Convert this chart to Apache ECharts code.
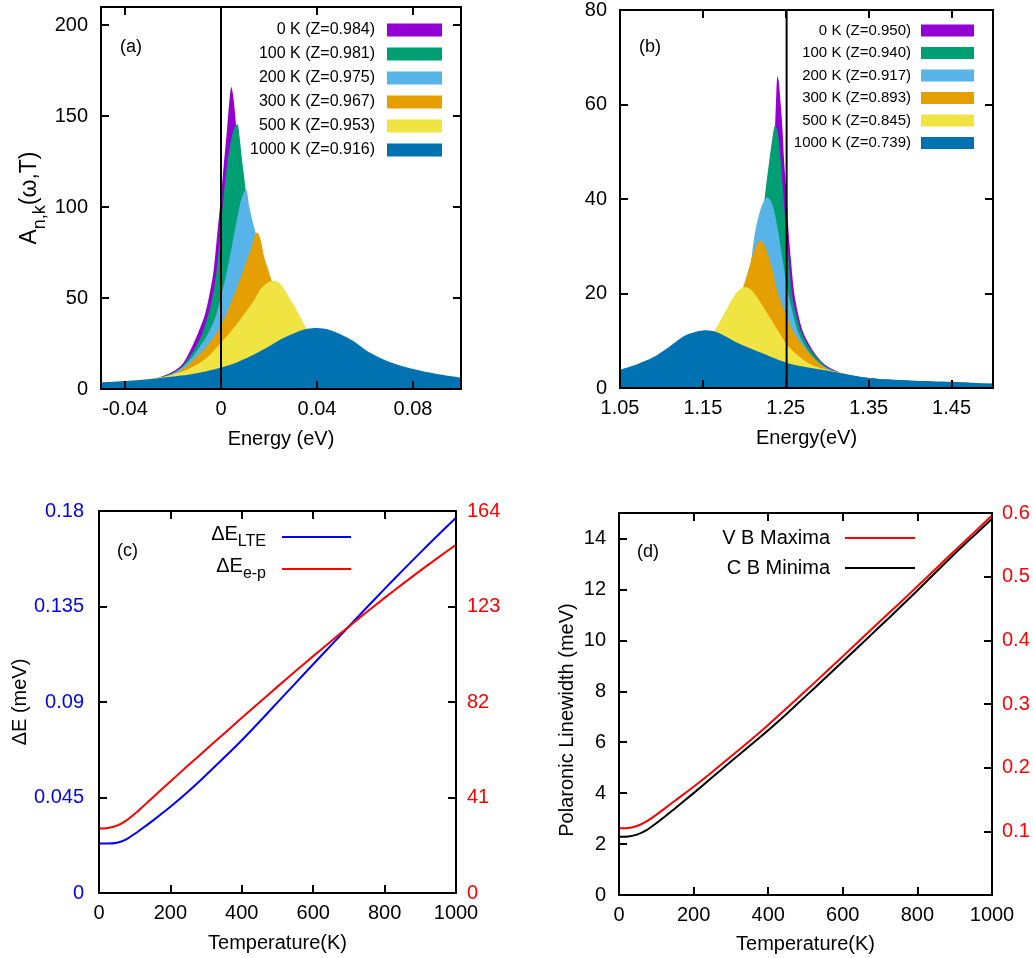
<!DOCTYPE html>
<html>
<head>
<meta charset="utf-8">
<script src="https://cdn.jsdelivr.net/npm/echarts@6/dist/echarts.min.js"></script>
<style>
  html, body { margin: 0; padding: 0; background: #fff; }
  #chart { width: 1033px; height: 958px; }
</style>
</head>
<body>
<div id="chart"></div>
<script>
// ---- panel (a): spectral function near E = 0 ----
const energyA0 = [-0.05, -0.04, -0.03, -0.022, -0.0165, -0.0125, -0.0095, -0.0067, -0.0045, -0.003, -0.0015, 0, 0.0012, 0.0024, 0.0034, 0.0043, 0.0052, 0.0062, 0.0075, 0.009, 0.011, 0.014, 0.018, 0.025, 0.035, 0.05, 0.07, 0.1];
const specA0 = [2.6, 3.3, 4.8, 8.2, 13, 22, 31, 41, 54, 66, 86, 106, 124, 141, 157, 166, 160, 146, 122, 95, 68, 44, 27, 14, 7, 3.5, 1.8, 0.9];
const energyA1 = [-0.05, -0.04, -0.03, -0.022, -0.0165, -0.0115, -0.008, -0.0053, -0.0035, -0.002, -0.0008, 0.0003, 0.0014, 0.0028, 0.0042, 0.0055, 0.0068, 0.0077, 0.0086, 0.0095, 0.0104, 0.0115, 0.013, 0.015, 0.018, 0.022, 0.028, 0.036, 0.05, 0.07, 0.1];
const specA1 = [2.5, 3.2, 4.6, 7.8, 12, 21, 30, 41, 51, 63, 78, 94, 110, 126, 137, 143.5, 145.5, 139, 128, 118, 108, 96, 80, 64, 46, 31, 19, 11, 5, 2.5, 1.2];
const energyA2 = [-0.05, -0.04, -0.03, -0.022, -0.0165, -0.012, -0.0088, -0.0046, -0.0018, 0.0017, 0.0045, 0.0072, 0.0088, 0.0104, 0.0118, 0.0132, 0.0144, 0.016, 0.019, 0.023, 0.03, 0.04, 0.055, 0.075, 0.1];
const specA2 = [2.4, 3.1, 4.4, 7.4, 11.5, 17.5, 23.3, 32.5, 41.7, 60, 78.4, 96.8, 106, 109.6, 100, 92, 86, 75, 58, 42, 26, 15, 7.5, 3.5, 1.8];
const energyA3 = [-0.05, -0.04, -0.03, -0.022, -0.0165, -0.0115, -0.006, -0.0011, 0.0024, 0.0045, 0.0079, 0.0105, 0.0125, 0.0137, 0.015, 0.0163, 0.0179, 0.0198, 0.0218, 0.026, 0.03, 0.035, 0.045, 0.06, 0.08, 0.1];
const specA3 = [2.3, 3.0, 4.2, 7.0, 10.5, 16, 23.3, 32.5, 41.7, 48.6, 60, 70, 77, 83, 86, 83, 73, 65, 57, 44, 35, 26, 15.5, 8, 4.2, 2.5];
const energyA4 = [-0.05, -0.04, -0.03, -0.022, -0.0129, -0.006, 0, 0.004, 0.0079, 0.011, 0.0139, 0.0163, 0.0195, 0.0221, 0.025, 0.029, 0.0325, 0.0357, 0.04, 0.045, 0.055, 0.07, 0.085, 0.1];
const specA4 = [3.0, 4.2, 5.6, 7.3, 11.4, 17, 25.5, 31.5, 38, 43.5, 49, 54.5, 58.5, 59.5, 57.5, 49, 41, 33, 25, 19, 11.5, 6.2, 4, 2.8];
const energyA5 = [-0.05, -0.04, -0.03, -0.022, -0.013, -0.006, 0, 0.006, 0.012, 0.0194, 0.026, 0.032, 0.036, 0.04, 0.045, 0.05, 0.055, 0.061, 0.07, 0.08, 0.09, 0.1];
const specA5 = [3.6, 4.4, 5.4, 6.6, 8.0, 9.8, 11.8, 14.3, 17.8, 23, 28, 31.5, 33.1, 33.5, 32.6, 30, 26.5, 20.8, 15, 11, 8.3, 6.3];
const legendA = ['0 K (Z=0.984)', '100 K (Z=0.981)', '200 K (Z=0.975)', '300 K (Z=0.967)', '500 K (Z=0.953)', '1000 K (Z=0.916)'];
const refLineA = 0;

// ---- panel (b): spectral function near 1.25 eV ----
const energyB0 = [1.05, 1.10, 1.15, 1.18, 1.20, 1.215, 1.225, 1.230, 1.234, 1.237, 1.2385, 1.240, 1.2415, 1.243, 1.246, 1.248, 1.251, 1.253, 1.256, 1.261, 1.270, 1.280, 1.29, 1.30, 1.32, 1.35, 1.40, 1.45, 1.50];
const specB0 = [1.6, 2.4, 4.5, 7.5, 11, 17, 25, 32, 43, 55, 62, 66, 65, 62, 55, 48, 41, 34, 27.5, 19.2, 12.3, 8.7, 6.2, 4.6, 3.0, 2.1, 1.5, 1.2, 0.9];
const energyB1 = [1.05, 1.10, 1.15, 1.19, 1.205, 1.215, 1.222, 1.225, 1.230, 1.234, 1.237, 1.240, 1.244, 1.247, 1.250, 1.253, 1.258, 1.268, 1.278, 1.29, 1.30, 1.32, 1.35, 1.40, 1.45, 1.50];
const specB1 = [1.8, 2.7, 5.5, 13, 20, 28, 36, 41, 48, 53, 55.5, 54.5, 48, 41, 34, 28.4, 19.2, 12.3, 8.7, 6.0, 4.4, 2.9, 2.1, 1.5, 1.2, 0.9];
const energyB2 = [1.05, 1.10, 1.15, 1.18, 1.19, 1.20, 1.207, 1.213, 1.219, 1.224, 1.228, 1.232, 1.236, 1.240, 1.245, 1.250, 1.254, 1.264, 1.274, 1.286, 1.30, 1.32, 1.35, 1.40, 1.45, 1.50];
const specB2 = [2.0, 3.0, 6.0, 11, 14.5, 19.5, 25.5, 33, 37.5, 39.7, 40.3, 39.5, 37.5, 34, 28.4, 23, 19.2, 12.3, 8.7, 6.0, 4.2, 2.8, 2.0, 1.5, 1.2, 0.9];
const energyB3 = [1.05, 1.10, 1.13, 1.16, 1.18, 1.19, 1.198, 1.207, 1.213, 1.219, 1.225, 1.232, 1.242, 1.250, 1.258, 1.272, 1.29, 1.30, 1.32, 1.35, 1.40, 1.45, 1.50];
const specB3 = [2.0, 3.5, 5.5, 9, 13.5, 17, 21, 26.2, 29.5, 31.2, 30, 26.2, 19.2, 15.7, 12.3, 8.7, 5.3, 4.0, 2.7, 2.0, 1.5, 1.2, 0.9];
const energyB4 = [1.05, 1.10, 1.13, 1.15, 1.164, 1.182, 1.192, 1.201, 1.21, 1.228, 1.240, 1.254, 1.278, 1.302, 1.35, 1.40, 1.45, 1.50];
const specB4 = [2.5, 4.0, 6.5, 9, 12.1, 17.8, 20.5, 21.3, 20.5, 15.7, 12.3, 8.7, 5.2, 3.8, 2.0, 1.5, 1.2, 0.9];
const energyB5 = [1.05, 1.07, 1.09, 1.11, 1.13, 1.154, 1.17, 1.19, 1.218, 1.25, 1.275, 1.30, 1.35, 1.40, 1.45, 1.50];
const specB5 = [3.9, 5.0, 6.5, 8.8, 11.2, 12.2, 11.6, 9.7, 7.6, 5.4, 4.4, 3.7, 2.1, 1.6, 1.3, 0.85];
const legendB = ['0 K (Z=0.950)', '100 K (Z=0.940)', '200 K (Z=0.917)', '300 K (Z=0.893)', '500 K (Z=0.845)', '1000 K (Z=0.739)'];
const refLineB = 1.251;

// ---- panels (c) and (d): temperature dependence ----
const temps = [0, 25, 50, 75, 100, 125, 150, 200, 250, 300, 350, 400, 450, 500, 550, 600, 650, 700, 750, 800, 850, 900, 950, 1000];
const deltaLTE = [0.0233, 0.0233, 0.0237, 0.0252, 0.0279, 0.0309, 0.0340, 0.0406, 0.0478, 0.0556, 0.0637, 0.0720, 0.0808, 0.0898, 0.0988, 0.1078, 0.1167, 0.1256, 0.1345, 0.1433, 0.1519, 0.1604, 0.1687, 0.1768];
const deltaEP = [27.7, 27.9, 28.9, 31.0, 34.0, 37.4, 40.9, 47.9, 54.8, 61.6, 68.4, 75.2, 81.9, 88.6, 95.2, 101.7, 108.1, 114.4, 120.6, 126.7, 132.6, 138.4, 144.0, 149.5];
const widthVBM = [2.62, 2.63, 2.72, 2.9, 3.15, 3.42, 3.7, 4.25, 4.83, 5.44, 6.05, 6.68, 7.34, 8.01, 8.69, 9.37, 10.06, 10.75, 11.43, 12.12, 12.82, 13.52, 14.21, 14.9];
const widthCBM = [2.29, 2.3, 2.38, 2.56, 2.82, 3.1, 3.4, 4.0, 4.62, 5.24, 5.85, 6.47, 7.12, 7.8, 8.48, 9.17, 9.86, 10.55, 11.25, 11.96, 12.68, 13.4, 14.09, 14.77];

// tick values
const ticksAx = [-0.04, 0, 0.04, 0.08];
const ticksAy = [0, 50, 100, 150, 200];
const ticksBx = [1.05, 1.15, 1.25, 1.35, 1.45];
const ticksBy = [0, 20, 40, 60, 80];
const ticksTemp = [0, 200, 400, 600, 800, 1000];
const ticksCy = [0, 0.045, 0.09, 0.135, 0.18];
const ticksCy2 = [0, 41, 82, 123, 164];
const ticksDy = [0, 2, 4, 6, 8, 10, 12, 14];
const ticksDy2 = [0.1, 0.2, 0.3, 0.4, 0.5, 0.6];

const FONT = '"Liberation Sans", Arial, Helvetica, sans-serif';
const AREA_COLORS = ['#9400d3', '#009e73', '#56b4e9', '#e69f00', '#f0e442', '#0072b2'];

function pairs(xs, ys) {
  return xs.map((x, i) => [x, ys[i]]);
}

function areaSeries(name, xs, ys, color, axis) {
  return {
    name: name, type: 'line', xAxisIndex: axis, yAxisIndex: axis,
    data: pairs(xs, ys), smooth: 0.3,
    symbol: 'none', silent: true, z: 2,
    lineStyle: { width: 0 },
    itemStyle: { color: color },
    areaStyle: { color: color, opacity: 1 }
  };
}

function lineSeries(name, xs, ys, color, xi, yi) {
  return {
    name: name, type: 'line', xAxisIndex: xi, yAxisIndex: yi,
    data: pairs(xs, ys), smooth: 0.3, symbol: 'none', silent: true, z: 3,
    lineStyle: { color: color, width: 2 },
    itemStyle: { color: color }
  };
}

function valueAxis(o) {
  const ax = {
    type: 'value', gridIndex: o.grid, position: o.pos, min: o.min, max: o.max, z: 10,
    name: o.name || '', nameLocation: 'middle', nameGap: o.gap || 0,
    nameTextStyle: Object.assign({ fontSize: 20, fontFamily: FONT, color: '#000' }, o.nameStyle || {}),
    axisLine: { show: true, onZero: false, lineStyle: { color: '#000', width: 2 } },
    axisTick: { show: true, inside: true, length: 8, customValues: o.ticks, lineStyle: { color: '#000', width: 2 } },
    axisLabel: {
      show: !o.mirror, customValues: o.labels || o.ticks, margin: o.margin || 10,
      fontSize: 20, fontFamily: FONT, color: o.color || '#000',
      formatter: v => String(v)
    },
    splitLine: { show: false },
    axisPointer: { show: false }
  };
  if (o.rotate != null) ax.nameRotate = o.rotate;
  return ax;
}

const seriesA = [energyA0, energyA1, energyA2, energyA3, energyA4, energyA5].map((xs, i) =>
  areaSeries(legendA[i], xs, [specA0, specA1, specA2, specA3, specA4, specA5][i], AREA_COLORS[i], 0));
const seriesB = [energyB0, energyB1, energyB2, energyB3, energyB4, energyB5].map((xs, i) =>
  areaSeries(legendB[i], xs, [specB0, specB1, specB2, specB3, specB4, specB5][i], AREA_COLORS[i], 2));

const chart = echarts.init(document.getElementById('chart'), null, { renderer: 'canvas' });

const subRich = {
  m: { fontSize: 23, fontFamily: FONT, color: '#000', verticalAlign: 'top', lineHeight: 31 },
  s: { fontSize: 18, fontFamily: FONT, color: '#000', verticalAlign: 'bottom', lineHeight: 31 }
};

const option = {
  animation: false,
  backgroundColor: '#fff',
  grid: [
    { left: 101, top: 7, width: 360, height: 382 },
    { left: 620, top: 7, width: 373, height: 381 },
    { left: 99, top: 511, width: 357, height: 382 },
    { left: 619, top: 513, width: 373, height: 382 }
  ],
  xAxis: [
    valueAxis({ grid: 0, pos: 'bottom', min: -0.05, max: 0.1, ticks: ticksAx, name: 'Energy (eV)', gap: 40 }),
    valueAxis({ grid: 0, pos: 'top', min: -0.05, max: 0.1, ticks: ticksAx, mirror: true }),
    valueAxis({ grid: 1, pos: 'bottom', min: 1.05, max: 1.5, ticks: ticksBx, name: 'Energy(eV)', gap: 40 }),
    valueAxis({ grid: 1, pos: 'top', min: 1.05, max: 1.5, ticks: ticksBx, mirror: true }),
    valueAxis({ grid: 2, pos: 'bottom', min: 0, max: 1000, ticks: ticksTemp, name: 'Temperature(K)', gap: 40 }),
    valueAxis({ grid: 2, pos: 'top', min: 0, max: 1000, ticks: ticksTemp, mirror: true }),
    valueAxis({ grid: 3, pos: 'bottom', min: 0, max: 1000, ticks: ticksTemp, name: 'Temperature(K)', gap: 39 }),
    valueAxis({ grid: 3, pos: 'top', min: 0, max: 1000, ticks: ticksTemp, mirror: true })
  ],
  yAxis: [
    valueAxis({ grid: 0, pos: 'left', min: 0, max: 210, ticks: ticksAy, margin: 13, rotate: 90,
      name: '{m|A}{s|n,k}{m|(ω,T)}', gap: 52, nameStyle: { rich: subRich } }),
    valueAxis({ grid: 0, pos: 'right', min: 0, max: 210, ticks: ticksAy, mirror: true }),
    valueAxis({ grid: 1, pos: 'left', min: 0, max: 80, ticks: ticksBy, margin: 13 }),
    valueAxis({ grid: 1, pos: 'right', min: 0, max: 80, ticks: ticksBy, mirror: true }),
    valueAxis({ grid: 2, pos: 'left', min: 0, max: 0.18, ticks: ticksCy, margin: 15, color: '#0000ff',
      name: 'ΔE (meV)', gap: 68, rotate: 90 }),
    valueAxis({ grid: 2, pos: 'right', min: 0, max: 164, ticks: ticksCy2, margin: 11, color: '#ff0000' }),
    valueAxis({ grid: 3, pos: 'left', min: 0, max: 15, ticks: ticksDy, margin: 13,
      name: 'Polaronic Linewidth (meV)', gap: 42, rotate: 90, nameStyle: { padding: [0, 32, 0, 0] } }),
    valueAxis({ grid: 3, pos: 'right', min: 0, max: 0.6, ticks: ticksDy2, margin: 10, color: '#ff0000' })
  ],
  legend: [
    {
      data: legendA, orient: 'vertical', align: 'right', right: 591, top: 22, padding: 0,
      itemWidth: 55, itemHeight: 13, itemGap: 8, icon: 'rect', selectedMode: false,
      textStyle: { fontSize: 16, fontFamily: FONT, color: '#000', padding: [0, 7, 0, 0] }
    },
    {
      data: legendB, orient: 'vertical', align: 'right', right: 59, top: 23, padding: 0,
      itemWidth: 53, itemHeight: 12, itemGap: 7.5, icon: 'rect', selectedMode: false,
      textStyle: { fontSize: 15, fontFamily: FONT, color: '#000', padding: [0, 5, 0, 0] }
    },
    {
      data: ['LTE', 'e-p'], orient: 'vertical', align: 'right', right: 682, top: 524, padding: 0,
      itemWidth: 69, itemHeight: 2, itemGap: 6, icon: 'rect', selectedMode: false,
      formatter: name => '{m|ΔE}{s|' + name + '}',
      textStyle: { padding: [0, 11, 0, 0], rich: {
        m: { fontSize: 20, fontFamily: FONT, color: '#000', verticalAlign: 'top', lineHeight: 26 },
        s: { fontSize: 16, fontFamily: FONT, color: '#000', verticalAlign: 'bottom', lineHeight: 26 }
      } }
    },
    {
      data: ['V B Maxima', 'C B Minima'], orient: 'vertical', align: 'right', right: 118, top: 528, padding: 0,
      itemWidth: 70, itemHeight: 2, itemGap: 10, icon: 'rect', selectedMode: false,
      textStyle: { fontSize: 20, fontFamily: FONT, color: '#000', padding: [0, 10, 0, 0] }
    }
  ],
  graphic: [
    { type: 'text', left: 120, top: 38, style: { text: '(a)', fontSize: 18, fontFamily: FONT, fill: '#000' } },
    { type: 'text', left: 639, top: 38, style: { text: '(b)', fontSize: 18, fontFamily: FONT, fill: '#000' } },
    { type: 'text', left: 117, top: 542, style: { text: '(c)', fontSize: 18, fontFamily: FONT, fill: '#000' } },
    { type: 'text', left: 637, top: 543, style: { text: '(d)', fontSize: 18, fontFamily: FONT, fill: '#000' } }
  ],
  series: [].concat(
    seriesA,
    [{
      type: 'line', xAxisIndex: 0, yAxisIndex: 0, data: [[refLineA, 0], [refLineA, 210]],
      symbol: 'none', silent: true, z: 5, lineStyle: { color: '#000', width: 2 }
    }],
    seriesB,
    [{
      type: 'line', xAxisIndex: 2, yAxisIndex: 2, data: [[refLineB, 0], [refLineB, 80]],
      symbol: 'none', silent: true, z: 5, lineStyle: { color: '#000', width: 2 }
    }],
    [
      lineSeries('LTE', temps, deltaLTE, '#0000ff', 4, 4),
      lineSeries('e-p', temps, deltaEP, '#ff0000', 4, 5),
      lineSeries('V B Maxima', temps, widthVBM, '#ff0000', 6, 6),
      lineSeries('C B Minima', temps, widthCBM, '#000000', 6, 6)
    ]
  )
};

chart.setOption(option);
</script>
</body>
</html>
